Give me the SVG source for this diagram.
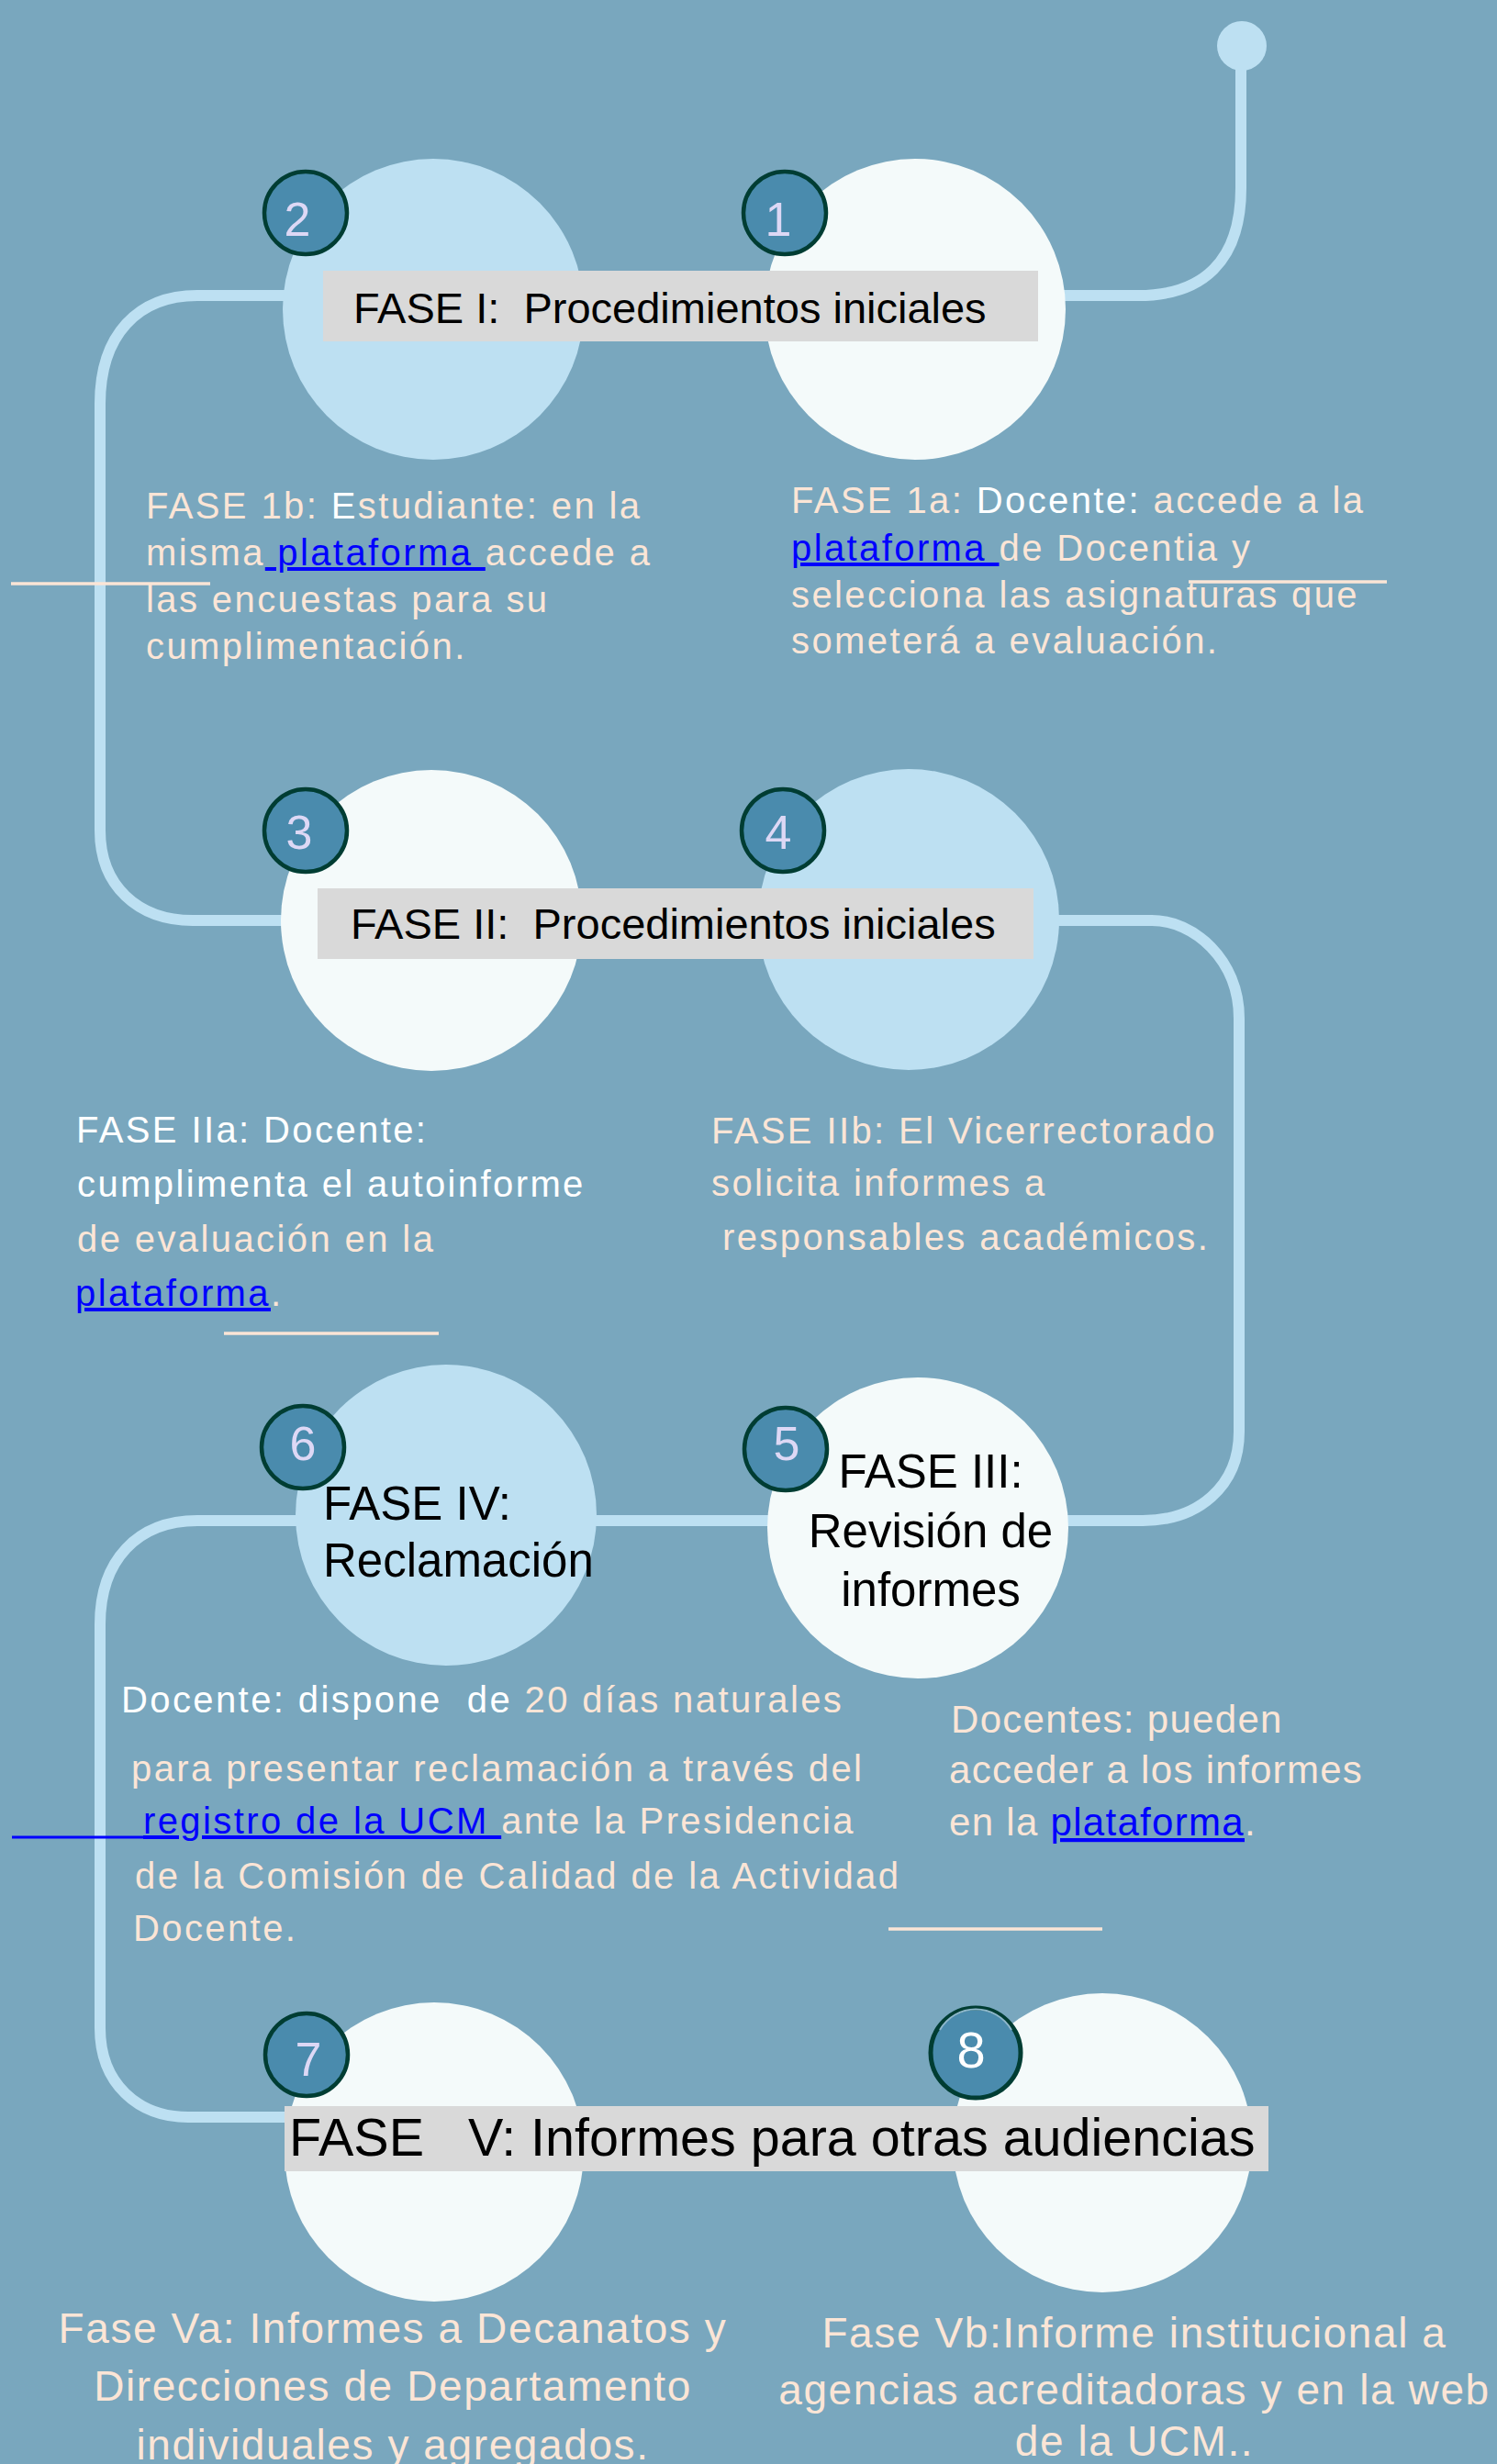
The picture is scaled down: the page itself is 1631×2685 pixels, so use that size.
<svg xmlns="http://www.w3.org/2000/svg" width="1631" height="2685" viewBox="0 0 1631 2685">
<style>
.bg{fill:#79A7BE}
.conn{fill:none;stroke:#BDE0F2;stroke-width:12}
.cb{fill:#BDE0F2}
.cw{fill:#F4FAFA}
.box{fill:#D9D9D9}
.badge{fill:#4A8BAD;stroke:#003D33;stroke-width:4.5}
.num{font-family:"Liberation Sans",Arial,sans-serif;font-size:52px;fill:#DDD8F5;text-anchor:middle}
.hd{font-family:"Liberation Sans",Arial,sans-serif;font-size:47px;fill:#000}
.ph{font-family:"Liberation Sans",Arial,sans-serif;font-size:51px;fill:#000}
.d{font-family:"Liberation Sans",Arial,sans-serif;font-size:40px;letter-spacing:2.4px;fill:#FBE5D6}
.d2{font-family:"Liberation Sans",Arial,sans-serif;font-size:42px;letter-spacing:1.3px;fill:#FBE5D6}
.b{font-family:"Liberation Sans",Arial,sans-serif;font-size:46px;letter-spacing:1.6px;fill:#FBE5D6;text-anchor:middle}
.w{fill:#FFFFFF}
.lk{fill:#0000FF;text-decoration:underline}
.stray{stroke:#FBE5D6;stroke-width:3.5}
</style>
<rect class="bg" x="0" y="0" width="1631" height="2685"/>

<g id="connectors">
<path class="conn" d="M1352,50 V205 C1352,285 1310,322 1240,322 H215 C150,322 109,365 109,440 V905 C109,965 150,1003 210,1003 H1255 C1300,1003 1350,1045 1350,1110 V1560 C1350,1620 1305,1657 1245,1657 H215 C150,1657 109,1700 109,1770 V2210 C109,2270 150,2307 205,2307 H480"/>
<circle class="cb" cx="1353" cy="50" r="27"/>
</g>

<g id="node1"><circle class="cw" cx="997" cy="337" r="164"/></g>
<g id="node2"><circle class="cb" cx="472" cy="337" r="164"/></g>
<g id="node3"><circle class="cw" cx="470" cy="1003" r="164"/></g>
<g id="node4"><circle class="cb" cx="990" cy="1002" r="164"/></g>
<g id="node6"><circle class="cb" cx="486" cy="1651" r="164"/></g>
<g id="node5"><circle class="cw" cx="1000" cy="1665" r="164"/></g>
<g id="node7"><circle class="cw" cx="473" cy="2345" r="163"/></g>
<g id="node8"><circle class="cw" cx="1201" cy="2335" r="163"/></g>

<g id="fase1-label">
<rect class="box" x="352" y="295" width="779" height="77"/>
<text class="hd" x="385" y="352" xml:space="preserve">FASE I:  Procedimientos iniciales</text>
</g>
<g id="fase2-label">
<rect class="box" x="346" y="968" width="780" height="77"/>
<text class="hd" x="382" y="1023" xml:space="preserve">FASE II:  Procedimientos iniciales</text>
</g>
<g id="fase3-label">
<text class="ph" text-anchor="middle"><tspan x="1014" y="1621">FASE III:</tspan><tspan x="1014" y="1686">Revisión de</tspan><tspan x="1014" y="1750">informes</tspan></text>
</g>
<g id="fase4-label">
<text class="ph"><tspan x="352" y="1656">FASE IV:</tspan><tspan x="352" y="1718">Reclamación</tspan></text>
</g>
<g id="fase5-label">
<rect class="box" x="310" y="2295" width="1072" height="71"/>
<text class="ph" style="font-size:57.5px" x="315" y="2349" xml:space="preserve">FASE   V: Informes para otras audiencias</text>
</g>

<g id="badge1"><circle class="badge" cx="855" cy="232" r="45"/><text class="num" x="848" y="257">1</text></g>
<g id="badge2"><circle class="badge" cx="333" cy="232" r="45"/><text class="num" x="324" y="257">2</text></g>
<g id="badge3"><circle class="badge" cx="333" cy="905" r="45"/><text class="num" x="326" y="925">3</text></g>
<g id="badge4"><circle class="badge" cx="853" cy="905" r="45"/><text class="num" x="848" y="925">4</text></g>
<g id="badge5"><circle class="badge" cx="856" cy="1579" r="45"/><text class="num" x="857" y="1591">5</text></g>
<g id="badge6"><circle class="badge" cx="330" cy="1577" r="45"/><text class="num" x="330" y="1591">6</text></g>
<g id="badge7"><circle class="badge" cx="334" cy="2239" r="45"/><text class="num" x="336" y="2262">7</text></g>
<g id="badge8"><circle class="badge" cx="1063" cy="2237" r="49" style="stroke-width:5"/><path d="M1024,2212 A45,45 0 0 1 1102,2212" fill="none" stroke="#8FB8CC" stroke-width="2"/><text class="num" style="fill:#FFFFFF;font-size:56px" x="1058" y="2253">8</text></g>

<g id="text-1b">
<text class="d" xml:space="preserve"><tspan x="159" y="565">FASE 1b: <tspan class="w">E</tspan>studiante: en la</tspan><tspan x="159" y="616">misma<tspan class="lk"> plataforma </tspan>accede a</tspan><tspan x="159" y="667">las encuestas para su</tspan><tspan x="159" y="718">cumplimentación.</tspan></text>
</g>
<g id="text-1a">
<text class="d" xml:space="preserve"><tspan x="862" y="559">FASE 1a: <tspan class="w">Docente:</tspan> accede a la</tspan><tspan x="862" y="611"><tspan class="lk">plataforma </tspan>de Docentia y</tspan><tspan x="862" y="662">selecciona las asignaturas que</tspan><tspan x="862" y="712">someterá a evaluación.</tspan></text>
</g>
<g id="text-2a">
<text class="d" xml:space="preserve"><tspan x="83" y="1245" class="w">FASE IIa: Docente:</tspan><tspan x="84" y="1304" class="w">cumplimenta el autoinforme</tspan><tspan x="84" y="1364">de evaluación en la</tspan><tspan x="82" y="1423"><tspan class="lk">plataforma</tspan>.</tspan></text>
</g>
<g id="text-2b">
<text class="d" xml:space="preserve"><tspan x="775" y="1246">FASE IIb: El Vicerrectorado</tspan><tspan x="775" y="1303">solicita informes a</tspan><tspan x="787" y="1362">responsables académicos.</tspan></text>
</g>
<g id="text-4">
<text class="d" xml:space="preserve"><tspan x="132" y="1866"><tspan class="w">Docente: dispone  de </tspan>20 días naturales</tspan><tspan x="143" y="1941">para presentar reclamación a través del</tspan><tspan x="156" y="1998"><tspan class="lk">registro de la UCM </tspan>ante la Presidencia</tspan><tspan x="147" y="2058">de la Comisión de Calidad de la Actividad</tspan><tspan x="145" y="2115">Docente.</tspan></text>
<line x1="13" y1="2002" x2="158" y2="2002" stroke="#0000FF" stroke-width="3"/>
</g>
<g id="text-3">
<text class="d2" xml:space="preserve"><tspan x="1036" y="1888">Docentes: pueden</tspan><tspan x="1034" y="1943">acceder a los informes</tspan><tspan x="1034" y="2000">en la <tspan class="lk">plataforma</tspan>.</tspan></text>
</g>
<g id="text-5a">
<text class="b"><tspan x="428" y="2553">Fase Va: Informes a Decanatos y</tspan><tspan x="428" y="2616">Direcciones de Departamento</tspan><tspan x="428" y="2680">individuales y agregados.</tspan></text>
</g>
<g id="text-5b">
<text class="b"><tspan x="1236" y="2558">Fase Vb:Informe institucional a</tspan><tspan x="1236" y="2620">agencias acreditadoras y en la web</tspan><tspan x="1236" y="2676">de la UCM..</tspan></text>
</g>

<g id="stray-lines">
<line class="stray" x1="12" y1="636" x2="229" y2="636"/>
<line class="stray" x1="1295" y1="634" x2="1511" y2="634"/>
<line class="stray" x1="244" y1="1453" x2="478" y2="1453"/>
<line class="stray" x1="968" y1="2102" x2="1201" y2="2102"/>
</g>
</svg>
